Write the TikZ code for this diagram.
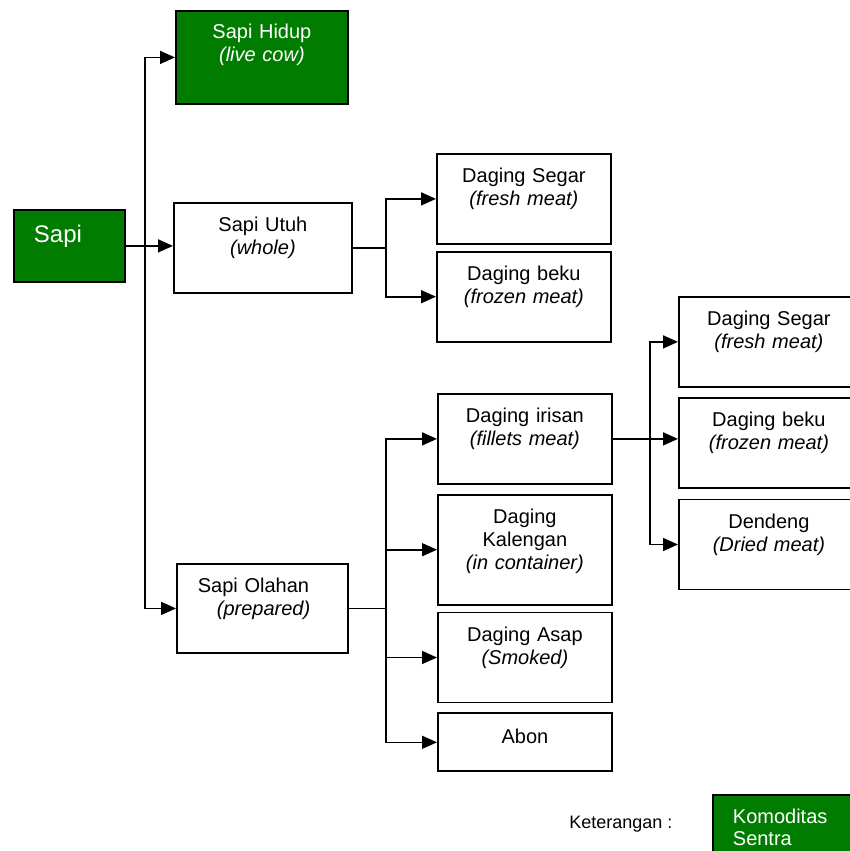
\documentclass[tikz,border=0pt]{standalone}
\usepackage{fontspec}
\setmainfont{Liberation Sans}
\usetikzlibrary{positioning}
\usetikzlibrary{arrows.meta}
\definecolor{sentra}{RGB}{0,125,0}

\tikzset{
  box/.style={draw, line width=0.9pt, inner sep=0pt, align=center,
    text height=14.5pt, text depth=30.5pt, font=\fontsize{10}{11.5}\selectfont},
  greenbox/.style={box, fill=sentra, text=white},
  mid/.style={box, text width=87pt},
  side/.style={box, text width=90pt},
  arr/.style={-{Triangle[length=7.5pt,width=6.5pt]}, line width=0.8pt},
  link/.style={line width=0.8pt},
}

\begin{document}
\begin{tikzpicture}[x=0.5pt, y=-0.5pt]
    \clip (0,0) rectangle (850,851);

    \node(sapi) [greenbox, anchor=north west, align=left, text width=35.5pt, inner xsep=10pt,
      text height=16.5pt, text depth=19.5pt, font=\fontsize{12}{14}\selectfont] at (13,209) {Sapi};
    \node(hidup) [greenbox, anchor=north west, text width=86pt, text height=14pt, text depth=32.5pt] at (175,10) {Sapi Hidup\\\textit{(live cow)}};
    \node(utuh) [box, anchor=north west, text width=89pt] at (173,202) {Sapi Utuh\\\textit{(whole)}};
    \node(olahan) [box, anchor=north west, align=left, text width=64.5pt, inner xsep=10.5pt, text depth=30pt] at (176,563) {Sapi Olahan\\\hspace*{9.5pt}\textit{(prepared)}};

    \node(segar) [mid, anchor=north west] at (436,153) {Daging Segar\\\textit{(fresh meat)}};
    \node(beku) [mid, below=3pt of segar] {Daging beku\\\textit{(frozen meat)}};

    \node(irisan) [mid, anchor=north west] at (437,393) {Daging irisan\\\textit{(fillets meat)}};
    \node(kaleng) [mid, text depth=40.5pt, below=4.5pt of irisan] {Daging\\Kalengan\\\textit{(in container)}};
    \node(asap) [mid, below=3pt of kaleng] {Daging Asap\\\textit{(Smoked)}};
    \node(abon) [mid, text height=15pt, text depth=14pt, below=4.5pt of asap] {Abon};

    \node(segarB) [side, anchor=north west] at (678,296) {Daging Segar\\\textit{(fresh meat)}};
    \node(bekuB) [side, below=4.5pt of segarB] {Daging beku\\\textit{(frozen meat)}};
    \node(dendeng) [side, below=5pt of bekuB] {Dendeng\\\textit{(Dried meat)}};

    \node(ket) [anchor=base west, inner sep=0pt, font=\fontsize{9}{11}\selectfont] at (569,828) {Keterangan :};
    \node(legend) [greenbox, anchor=north west, align=left, text width=50pt, inner xsep=10pt,
      text depth=25pt, font=\fontsize{10}{11}\selectfont] at (712,794) {Komoditas\\Sentra};

    \coordinate(trunk) at (145,0);
    \coordinate(forkA) at (386,0);
    \coordinate(forkC) at (650,0);

    % main trunk
    \draw[arr](sapi.east) -- (sapi.east -| utuh.west);
    \draw[arr](trunk |- sapi.east) |- (hidup.west);
    \draw[arr](trunk |- sapi.east) |- (olahan.west);

    % whole
    \draw[link](utuh.east) -- (forkA |- utuh.east);
    \draw[arr](forkA |- utuh.east) |- (segar.west);
    \draw[arr](forkA |- utuh.east) |- (beku.west);

    % prepared
    \draw[link](olahan.east) -- (forkA |- olahan.east);
    \draw[arr](forkA |- olahan.east) |- (irisan.west);
    \draw[arr](forkA |- olahan.east) |- (abon.west);
    \foreach \n in {kaleng,asap}
      \draw[arr](forkA |- \n.west) -- (\n.west);

    % fillets
    \draw[arr](irisan.east) -- (irisan.east -| bekuB.west);
    \draw[arr](forkC |- irisan.east) |- (segarB.west);
    \draw[arr](forkC |- irisan.east) |- (dendeng.west);
\end{tikzpicture}
\end{document}
